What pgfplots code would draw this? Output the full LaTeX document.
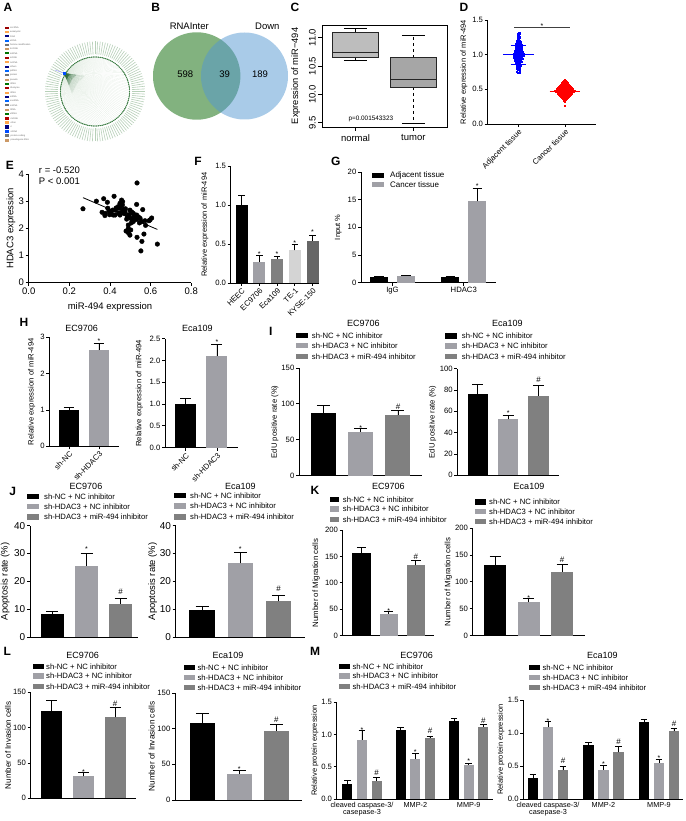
\documentclass[border=0pt]{standalone}
\usepackage{fontspec}
\setmainfont{Liberation Sans}
\usepackage{pgfplots}
\usepackage{pgfplotstable}
\pgfplotsset{compat=1.18}
\definecolor{gA}{HTML}{A0A0A6}
\definecolor{gB}{HTML}{808080}
\definecolor{ringg}{HTML}{3F7F47}
\definecolor{fang}{HTML}{2F6B3A}
\definecolor{labg}{HTML}{B7D0B8}
\definecolor{spokeg}{HTML}{DCE8DC}
\newcommand{\fz}[1]{\fontsize{#1}{#1}\selectfont}
\pgfplotstableread[row sep=\\]{x y\\
1.000 0\\ .999 .052\\ .995 .105\\ .988 .156\\ .978 .208\\ .966 .259\\ .951 .309\\ .934 .358\\ .914 .407\\ .891 .454\\
.866 .500\\ .839 .545\\ .809 .588\\ .777 .629\\ .743 .669\\ .707 .707\\ .669 .743\\ .629 .777\\ .588 .809\\ .545 .839\\
.500 .866\\ .454 .891\\ .407 .914\\ .358 .934\\ .309 .951\\ .259 .966\\ .208 .978\\ .156 .988\\ .105 .995\\ .052 .999\\
0 1.000\\ -.052 .999\\ -.105 .995\\ -.156 .988\\ -.208 .978\\ -.259 .966\\ -.309 .951\\ -.358 .934\\ -.407 .914\\ -.454 .891\\
-.500 .866\\ -.545 .839\\ -.588 .809\\ -.629 .777\\ -.669 .743\\ -.707 .707\\ -.743 .669\\ -.777 .629\\ -.809 .588\\ -.839 .545\\
-.866 .500\\ -.891 .454\\ -.914 .407\\ -.934 .358\\ -.951 .309\\ -.966 .259\\ -.978 .208\\ -.988 .156\\ -.995 .105\\ -.999 .052\\
-1.000 0\\ -.999 -.052\\ -.995 -.105\\ -.988 -.156\\ -.978 -.208\\ -.966 -.259\\ -.951 -.309\\ -.934 -.358\\ -.914 -.407\\ -.891 -.454\\
-.866 -.500\\ -.839 -.545\\ -.809 -.588\\ -.777 -.629\\ -.743 -.669\\ -.707 -.707\\ -.669 -.743\\ -.629 -.777\\ -.588 -.809\\ -.545 -.839\\
-.500 -.866\\ -.454 -.891\\ -.407 -.914\\ -.358 -.934\\ -.309 -.951\\ -.259 -.966\\ -.208 -.978\\ -.156 -.988\\ -.105 -.995\\ -.052 -.999\\
0 -1.000\\ .052 -.999\\ .105 -.995\\ .156 -.988\\ .208 -.978\\ .259 -.966\\ .309 -.951\\ .358 -.934\\ .407 -.914\\ .454 -.891\\
.500 -.866\\ .545 -.839\\ .588 -.809\\ .629 -.777\\ .669 -.743\\ .707 -.707\\ .743 -.669\\ .777 -.629\\ .809 -.588\\ .839 -.545\\
.866 -.500\\ .891 -.454\\ .914 -.407\\ .934 -.358\\ .951 -.309\\ .966 -.259\\ .978 -.208\\ .988 -.156\\ .995 -.105\\ .999 -.052\\
}\Circ
\pgfplotstableread[row sep=\\]{u v\\
20 2.7\\ 19.5 3.5\\ 19 4.3\\ 18 5.5\\ 17 6.3\\ 16 7\\ 15 7.8\\ 14 8.5\\ 13.5 9.3\\ 13 10\\ 12.5 11\\ 12 12\\ 11.5 13\\ 11 14\\ 10.5 15\\ 10 16\\ 9.5 17\\ 9 18\\ 8.5 19\\ 8 20\\
}\Fan
\pgfplotsset{
  base/.style={scale only axis,anchor=south west,clip=false,axis x line*=bottom,axis y line*=left,
    enlargelimits=false,ymin=0,xtick=\empty,tick align=outside,major tick length=3pt,
    tick style={black,line width=.8pt},axis line style={line width=.8pt},
    /pgf/number format/assume math mode=true,tick label style={font=\fz{7.7},inner sep=1.5pt},
    scaled ticks=false,every axis title/.style={at={(rel axis cs:0,1)},anchor=center}},
  P/.style n args={4}{at={(#1pt,{(821-#2)*1pt})},width=#3pt,height=#4pt},
  YL/.style n args={3}{ylabel={#1},every axis y label/.style={at={(rel axis cs:0,0.5)},xshift=-#2pt,rotate=90,anchor=center,font=\fz{#3}}},
  T/.style n args={3}{title={#1},title style={xshift=#2pt,yshift=#3pt,font=\fz{9}}},
  cap/.style={error bars/error mark options={mark size=#1pt,line width=.8pt,rotate=90}},
  dec1/.style={yticklabel style={/pgf/number format/fixed,/pgf/number format/fixed zerofill,/pgf/number format/precision=1}},
  rotx/.style={xticklabel style={rotate=45,anchor=north east,inner sep=1pt}},
  wh/.style={black,line width=.8pt,dash pattern=on 3pt off 3pt},
  ca/.style={black,line width=.8pt},
}
\newcommand{\Bb}[4]{\addplot[ybar,bar shift=0pt,fill=#1,draw=none,error bars/.cd,y dir=plus,y explicit,error bar style={black,line width=.8pt}] coordinates {(#2,#3) +- (0,#4)};}
\newcommand{\St}[2]{\node[font=\fz{7},inner sep=0pt,yshift=-1.7pt] at (axis cs:#1,#2) {*};}
\newcommand{\Hs}[2]{\node[font=\fz{8},inner sep=0pt] at (axis cs:#1,#2) {\#};}
\newcommand{\Leg}[7][\fz{7.7}]{%
  \fill[black] (axis cs:#2,#5-2.7) rectangle (axis cs:#3,#5+2.7);
  \fill[gA] (axis cs:#2,#6-2.7) rectangle (axis cs:#3,#6+2.7);
  \fill[gB] (axis cs:#2,#7-2.7) rectangle (axis cs:#3,#7+2.7);
  \node[anchor=west,inner sep=0pt,font=#1] at (axis cs:#4,#5) {sh-NC + NC inhibitor};
  \node[anchor=west,inner sep=0pt,font=#1] at (axis cs:#4,#6) {sh-HDAC3 + NC inhibitor};
  \node[anchor=west,inner sep=0pt,font=#1] at (axis cs:#4,#7) {sh-HDAC3 + miR-494 inhibitor};}
\newcommand{\LA}[3]{\fill[#2] (axis cs:5.3,#1-1) rectangle (axis cs:8.7,#1+1);
  \node[anchor=west,inner sep=0pt,font=\fz{2.3},text=black!60] at (axis cs:10,#1) {#3};}
\newcommand{\LB}[3]{\fill[#2] (axis cs:4.7,#1-1.6) rectangle (axis cs:9.3,#1+1.6);
  \node[anchor=west,inner sep=0pt,font=\fz{2.3},text=black!60] at (axis cs:10.5,#1) {#3};}
\newcommand{\Let}[3]{\node[font=\bfseries\fz{12},inner sep=0pt] at (axis cs:#1,#2) {#3};}
\begin{document}
\begin{tikzpicture}
\useasboundingbox (0,0) rectangle (685pt,821pt);

% C box plot
\begin{axis}[scale only axis,anchor=south west,clip=false,P={322}{127}{125}{102},xmin=-.58,xmax=1.583,ymin=9.424,ymax=11.224,
  axis line style={line width=.9pt},tick style={black,line width=.8pt},tick align=outside,major tick length=4pt,
  xtick={0,1},xticklabels={normal,tumor},ytick={9.5,10,10.5,11},xtick pos=bottom,ytick pos=left,
  /pgf/number format/assume math mode=true,dec1,
  tick label style={font=\fz{9.5}},yticklabel style={rotate=90,anchor=south,inner sep=2pt},xticklabel style={inner sep=3pt},
  YL={Expression of miR−494}{26.3}{9.3}]
\addplot[wh] coordinates {(0,11.095)(0,11.155)};
\addplot[wh] coordinates {(0,10.646)(0,10.60)};
\addplot[wh] coordinates {(1,10.646)(1,11.04)};
\addplot[wh] coordinates {(1,10.13)(1,9.49)};
\addplot[ca] coordinates {(-.2,11.155)(.2,11.155)};
\addplot[ca] coordinates {(-.2,10.60)(.2,10.60)};
\addplot[ca] coordinates {(.8,11.04)(1.2,11.04)};
\addplot[ca] coordinates {(.8,9.49)(1.2,9.49)};
\addplot[fill=black!26,draw=black!85,line width=.9pt] coordinates {(-.4,10.646)(.4,10.646)(.4,11.095)(-.4,11.095)} --cycle;
\addplot[fill=black!35,draw=black!85,line width=.9pt] coordinates {(.6,10.13)(1.4,10.13)(1.4,10.646)(.6,10.646)} --cycle;
\addplot[black!85,line width=.9pt] coordinates {(-.4,10.735)(.4,10.735)};
\addplot[black!85,line width=.9pt] coordinates {(.6,10.26)(1.4,10.26)};
\node[font=\fz{6.4},inner sep=0pt] at (axis cs:.265,9.564) {p=0.001543323};
\end{axis}

% D scatter
\begin{axis}[base,P={487.7}{124}{108.3}{104},xmin=-30.6,xmax=77.7,ymax=1.5,ytick={0,.5,1,1.5},dec1,
  xtick={0,46.7},xticklabels={Adjacent tissue,Cancer tissue},rotx,tick label style={font=\fz{7.7}},
  YL={Relative expression of miR-494}{23.7}{7.5}]
\addplot[only marks,mark=square*,mark size=.55pt,blue,mark options={draw=none}] table[row sep=\\,x=o,y=y]{o y\\
0 1.32\\ 1 1.32\\ -1 1.30\\ 1 1.30\\ -1 1.28\\ 0 1.28\\ 0 1.26\\ 1 1.26\\ -1 1.24\\ 1 1.24\\ -1 1.22\\ .5 1.22\\
-1.5 1.20\\ 0 1.20\\ 1.5 1.20\\ -2 1.18\\ 0 1.18\\ 2 1.18\\ -2.5 1.16\\ -1 1.16\\ 1 1.16\\ 2.5 1.16\\
-3 1.14\\ -1 1.14\\ 1 1.14\\ 3 1.14\\ -3 1.12\\ -1 1.12\\ 1 1.12\\ 3 1.12\\ -2.5 1.10\\ -1 1.10\\ 1 1.10\\ 2.5 1.10\\
-3 1.08\\ -1.5 1.08\\ 0 1.08\\ 1.5 1.08\\ 3 1.08\\ -3.5 1.06\\ -1.5 1.06\\ 0 1.06\\ 1.5 1.06\\ 3.5 1.06\\
-4 1.04\\ -2 1.04\\ 0 1.04\\ 2 1.04\\ 4 1.04\\ -5 1.02\\ -3 1.02\\ -1 1.02\\ 1 1.02\\ 3 1.02\\ 5 1.02\\
-5 1.00\\ -3 1.00\\ -1 1.00\\ 1 1.00\\ 3 1.00\\ 5 1.00\\ -5 .98\\ -3 .98\\ -1 .98\\ 1 .98\\ 3 .98\\ 5 .98\\
-4.5 .96\\ -2.5 .96\\ -.5 .96\\ 1.5 .96\\ 3.5 .96\\ -4 .94\\ -2 .94\\ 0 .94\\ 2 .94\\ 4 .94\\
-3.5 .92\\ -1.5 .92\\ .5 .92\\ 2.5 .92\\ -3 .90\\ -1 .90\\ 1 .90\\ 3 .90\\ -2.5 .88\\ -.5 .88\\ 1.5 .88\\
-2 .86\\ 0 .86\\ 2 .86\\ -2 .84\\ 0 .84\\ 2 .84\\ -1.5 .82\\ .5 .82\\ 1.5 .82\\ -1.5 .80\\ 0 .80\\ 1.5 .80\\
-1 .78\\ 1 .78\\ -1.5 .76\\ 1 .76\\ -1 .74\\ 1 .74\\
};
\addplot[only marks,mark=square*,mark size=.55pt,red,mark options={draw=none}] table[row sep=\\,x=o,y=y]{o y\\
46.7 .64\\ 45.7 .625\\ 47.7 .625\\ 44.7 .61\\ 46.7 .61\\ 48.7 .61\\ 43.7 .595\\ 45.7 .595\\ 47.7 .595\\ 49.7 .595\\
43.2 .58\\ 45.2 .58\\ 47.2 .58\\ 49.2 .58\\ 42.7 .565\\ 44.7 .565\\ 46.7 .565\\ 48.7 .565\\ 50.7 .565\\
41.7 .55\\ 43.7 .55\\ 45.7 .55\\ 47.7 .55\\ 49.7 .55\\ 51.7 .55\\ 40.7 .535\\ 42.7 .535\\ 44.7 .535\\ 46.7 .535\\ 48.7 .535\\ 50.7 .535\\ 52.7 .535\\
39.7 .52\\ 41.7 .52\\ 43.7 .52\\ 45.7 .52\\ 47.7 .52\\ 49.7 .52\\ 51.7 .52\\ 53.7 .52\\
38.7 .505\\ 40.7 .505\\ 42.7 .505\\ 44.7 .505\\ 46.7 .505\\ 48.7 .505\\ 50.7 .505\\ 52.7 .505\\ 54.7 .505\\
38.7 .49\\ 40.7 .49\\ 42.7 .49\\ 44.7 .49\\ 46.7 .49\\ 48.7 .49\\ 50.7 .49\\ 52.7 .49\\ 54.7 .49\\
36.7 .475\\ 38.7 .475\\ 40.7 .475\\ 42.7 .475\\ 44.7 .475\\ 46.7 .475\\ 48.7 .475\\ 50.7 .475\\ 52.7 .475\\ 54.7 .475\\ 56.7 .475\\
37.7 .46\\ 39.7 .46\\ 41.7 .46\\ 43.7 .46\\ 45.7 .46\\ 47.7 .46\\ 49.7 .46\\ 51.7 .46\\ 53.7 .46\\ 55.7 .46\\
39.7 .445\\ 41.7 .445\\ 43.7 .445\\ 45.7 .445\\ 47.7 .445\\ 49.7 .445\\ 51.7 .445\\ 53.7 .445\\
40.7 .43\\ 42.7 .43\\ 44.7 .43\\ 46.7 .43\\ 48.7 .43\\ 50.7 .43\\ 52.7 .43\\
41.7 .415\\ 43.7 .415\\ 45.7 .415\\ 47.7 .415\\ 49.7 .415\\ 51.7 .415\\
42.7 .40\\ 44.7 .40\\ 46.7 .40\\ 48.7 .40\\ 50.7 .40\\ 43.7 .385\\ 45.7 .385\\ 47.7 .385\\ 49.7 .385\\
44.7 .37\\ 46.7 .37\\ 48.7 .37\\ 45.7 .355\\ 47.7 .355\\ 45.7 .34\\ 46.7 .34\\ 46.7 .32\\ 46.7 .27\\
};
\addplot[blue,line width=.8pt] coordinates {(-15.3,1)(15.3,1)};
\addplot[blue,line width=.8pt] coordinates {(-7.7,1.14)(7.7,1.14)};
\addplot[blue,line width=.8pt] coordinates {(-7.7,.86)(7.7,.86)};
\addplot[red,line width=.8pt] coordinates {(31.4,.47)(62,.47)};
\addplot[red,line width=.8pt] coordinates {(39,.52)(54.4,.52)};
\addplot[red,line width=.8pt] coordinates {(39,.42)(54.4,.42)};
\addplot[black!75,line width=.8pt] coordinates {(-4.3,1.389)(51.7,1.389)};
\St{23.7}{1.43}
\end{axis}

% E scatter
\begin{axis}[base,P={28.7}{282.7}{162.6}{108.7},xmin=0,xmax=.8,ymax=4,xtick={0,.2,.4,.6,.8},ytick={0,1,2,3,4},
  xticklabel style={/pgf/number format/fixed,/pgf/number format/fixed zerofill,/pgf/number format/precision=1},
  tick label style={font=\fz{9.5}},YL={HDAC3 expression}{17.7}{9.5},xlabel={miR-494 expression},
  every axis x label/.style={at={(rel axis cs:.5,0)},yshift=-24pt,anchor=center,font=\fz{9.5}}]
\addplot[only marks,mark=*,mark size=2.3pt,black] coordinates {
(.267,2.72)(.333,3.0)(.369,3.09)(.387,2.96)(.42,3.18)(.361,2.59)(.377,2.55)(.375,2.47)(.389,2.74)(.395,2.64)
(.405,2.55)(.416,2.49)(.413,2.67)(.428,2.67)(.425,2.49)(.443,2.56)(.446,2.74)(.452,2.82)(.449,2.92)(.457,3.04)
(.462,2.98)(.461,2.86)(.441,2.80)(.466,2.70)(.469,2.55)(.449,2.49)(.531,2.88)(.561,2.69)(.498,2.67)(.507,2.60)
(.49,2.49)(.482,2.34)(.502,2.37)(.515,2.55)(.518,2.43)(.531,2.49)(.531,2.33)(.515,2.25)(.49,2.12)(.49,1.99)
(.479,1.90)(.49,1.84)(.498,1.75)(.502,1.94)(.548,2.37)(.556,2.25)(.572,2.28)(.575,2.11)(.592,2.28)(.605,2.38)
(.597,2.31)(.567,1.79)(.533,1.67)(.557,1.52)(.633,1.42)(.552,1.17)(.533,3.67)(.476,2.72)(.485,2.42)(.523,2.35)
(.51,2.28)(.54,2.42)(.398,2.5)(.43,2.75)(.46,2.62)(.505,2.2)(.495,2.5)(.545,2.2)(.474,2.6)
};
\addplot[black,line width=.8pt] coordinates {(.267,3.13)(.633,1.96)};
\node[anchor=west,inner sep=0pt,font=\fz{9.5}] at (axis cs:.0495,4.13) {r = -0.520};
\node[anchor=west,inner sep=0pt,font=\fz{9.5}] at (axis cs:.0495,3.74) {P < 0.001};
\end{axis}

% F
\begin{axis}[base,P={230.7}{283}{88.6}{116.7},xmin=-.615,xmax=4.38,ymax=1.5,ytick={0,.5,1,1.5},dec1,bar width=12pt,cap=3.3,
  xtick={0,1,2,3,4},xticklabels={HEEC,EC9706,Eca109,TE-1,KYSE-150},rotx,
  YL={Relative expression of miR-494}{25.7}{7.5}]
\Bb{black}{0}{1.0}{.12}
\Bb{gA}{1}{.27}{.08}
\Bb{gB}{2}{.31}{.03}
\Bb{black!17}{3}{.42}{.08}
\Bb{black!60}{4}{.54}{.07}
\St{1}{.39}\St{2}{.39}\St{3}{.53}\St{4}{.67}
\end{axis}

% G
\begin{axis}[base,P={361}{282.7}{135}{110.7},xmin=-.442,xmax=1.452,ymax=20,ytick={0,5,10,15,20},bar width=18pt,cap=4.7,
  xtick={0,1},xticklabels={IgG,HDAC3},YL={Input \%}{22.7}{7.5}]
\Bb{black}{-.189}{1.0}{.15}
\Bb{gA}{.189}{1.25}{.1}
\Bb{black}{.811}{.95}{.15}
\Bb{gA}{1.189}{14.7}{2.4}
\St{1.189}{17.7}
\end{axis}

% H
\begin{axis}[base,P={49.3}{446.3}{70}{109},xmin=-.657,xmax=1.677,ymax=3,ytick={0,1,2,3},bar width=20pt,cap=5.3,
  xtick={0,1},xticklabels={sh-NC,sh-HDAC3},rotx,YL={Relative expression of miR-494}{17.6}{7.7},T={EC9706}{32.4}{8.6}]
\Bb{black}{0}{1.0}{.07}
\Bb{gA}{1}{2.65}{.18}
\St{1}{2.94}
\end{axis}
\begin{axis}[base,P={165}{447.7}{73.3}{109},xmin=-.661,xmax=1.681,ymax=2.5,ytick={0,.5,1,1.5,2,2.5},dec1,bar width=21pt,cap=5.5,
  xtick={0,1},xticklabels={sh-NC,sh-HDAC3},rotx,YL={Relative expression of miR-494}{25.7}{7.7},T={Eca109}{32.3}{10}]
\Bb{black}{0}{1.0}{.14}
\Bb{gA}{1}{2.1}{.27}
\St{1}{2.47}
\end{axis}

% I
\begin{axis}[base,P={299}{475.7}{122.7}{107.7},xmin=-.651,xmax=2.635,ymax=150,ytick={0,50,100,150},bar width=25pt,cap=6.5,
  YL={EdU positive rate (\%)}{24}{7.7},T={EC9706}{64.3}{45}]
\Bb{black}{0}{87}{11}
\Bb{gA}{1}{61}{5}
\Bb{gB}{2}{84}{7.5}
\St{1}{68}\Hs{2}{96.5}
\end{axis}
\begin{axis}[base,P={457.3}{475.3}{101.7}{106.6},xmin=-.675,xmax=2.675,ymax=100,ytick={0,20,40,60,80,100},bar width=20.3pt,cap=5.5,
  YL={EdU positive rate (\%)}{24.6}{7.7},T={Eca109}{50}{45.7}]
\Bb{black}{0}{76}{9}
\Bb{gA}{1}{52.5}{4}
\Bb{gB}{2}{74.5}{10}
\St{1}{59.6}\Hs{2}{89.4}
\end{axis}

% J
\begin{axis}[base,P={30}{637}{107.7}{111.3},xmin=-.652,xmax=2.497,ymax=40,ytick={0,10,20,30,40},bar width=22.7pt,cap=6,
  tick label style={font=\fz{10}},YL={Apoptosis rate (\%)}{24.7}{9.4},T={EC9706}{56}{39.7}]
\Bb{black}{0}{8.3}{1}
\Bb{gA}{1}{25.6}{4.4}
\Bb{gB}{2}{12}{1.8}
\St{1}{32.1}\Hs{2}{16.3}
\end{axis}
\begin{axis}[base,P={175.7}{637}{129}{111.3},xmin=-.695,xmax=2.687,ymax=40,ytick={0,10,20,30,40},bar width=25.7pt,cap=6.5,
  tick label style={font=\fz{10}},YL={Apoptosis rate (\%)}{23}{9.4},T={Eca109}{64.6}{39}]
\Bb{black}{0}{9.7}{1.3}
\Bb{gA}{1}{26.5}{3.8}
\Bb{gB}{2}{12.8}{2.2}
\St{1}{32.3}\Hs{2}{17.4}
\end{axis}

% K
\begin{axis}[base,P={342.7}{635.7}{91.6}{105.7},xmin=-.692,xmax=2.681,ymax=200,ytick={0,50,100,150,200},bar width=18.3pt,cap=4.7,
  YL={Number of Migration cells}{26.7}{7.8},T={EC9706}{45.6}{43.3}]
\Bb{black}{0}{156}{11}
\Bb{gA}{1}{42}{4}
\Bb{gB}{2}{133}{9.6}
\St{1}{50.5}\Hs{2}{149}
\end{axis}
\begin{axis}[base,P={472.7}{635.7}{112.3}{107.7},xmin=-.672,xmax=2.681,ymax=200,ytick={0,50,100,150,200},bar width=22.3pt,cap=5.5,
  YL={Number of Migration cells}{24.4}{7.8},T={Eca109}{56.3}{41.3}]
\Bb{black}{0}{130.7}{16}
\Bb{gA}{1}{62.5}{6.2}
\Bb{gB}{2}{119}{12.9}
\St{1}{72.4}\Hs{2}{140.6}
\end{axis}

% L
\begin{axis}[base,P={30.7}{798.3}{105.3}{106},xmin=-.666,xmax=2.656,ymax=150,ytick={0,50,100,150},bar width=21pt,cap=5.5,
  YL={Number of Invasion cells}{22.7}{8},T={EC9706}{52}{37.3}]
\Bb{black}{0}{123.6}{14.4}
\Bb{gA}{1}{31}{5.8}
\Bb{gB}{2}{114.6}{13.7}
\St{1}{40}\Hs{2}{134.4}
\end{axis}
\begin{axis}[base,P={175}{800}{127}{107},xmin=-.738,xmax=2.695,ymax=150,ytick={0,50,100,150},bar width=24.7pt,cap=6.5,
  YL={Number of Invasion cells}{23.3}{8.2},T={Eca109}{53}{37.7}]
\Bb{black}{0}{108}{13.5}
\Bb{gA}{1}{36.4}{4.6}
\Bb{gB}{2}{97.2}{8.4}
\St{1}{45.3}\Hs{2}{113}
\end{axis}

% M
\begin{axis}[base,P={336.7}{799.3}{156.6}{97.3},xmin=-.473,xmax=2.46,ymax=1.5,ytick={0,.5,1,1.5},dec1,bar width=10pt,cap=3.3,
  xtick={0,1,2},xticklabels={{cleaved caspase-3/\\casepase-3},MMP-2,MMP-9},
  xticklabel style={align=center,font=\fz{7.3},yshift=2pt},major x tick style={draw=none},
  YL={Relative protein expression}{21.7}{7.5},T={EC9706}{80}{47}]
\Bb{black}{-.274}{.232}{.062}
\Bb{gA}{0}{.917}{.143}
\Bb{gB}{.274}{.283}{.047}
\Bb{black}{.726}{1.062}{.046}
\Bb{gA}{1}{.619}{.092}
\Bb{gB}{1.274}{.943}{.031}
\Bb{black}{1.726}{1.206}{.047}
\Bb{gA}{2}{.531}{.026}
\Bb{gB}{2.274}{1.119}{.031}
\St{0}{1.098}\St{1}{.75}\St{2}{.61}
\Hs{.274}{.41}\Hs{1.274}{1.057}\Hs{2.274}{1.21}
\end{axis}
\begin{axis}[base,P={523.3}{799.3}{160}{99.3},xmin=-.445,xmax=2.438,ymax=1.5,ytick={0,.5,1,1.5},dec1,bar width=10.3pt,cap=3.3,
  xtick={0,1,2},xticklabels={{cleaved caspase-3/\\casepase-3},MMP-2,MMP-9},
  xticklabel style={align=center,font=\fz{7.3},yshift=2pt},major x tick style={draw=none},
  YL={Relative protein expression}{22.3}{7.5},T={Eca109}{79}{45}]
\Bb{black}{-.27}{.322}{.055}
\Bb{gA}{0}{1.092}{.081}
\Bb{gB}{.27}{.438}{.06}
\Bb{black}{.73}{.825}{.036}
\Bb{gA}{1}{.443}{.075}
\Bb{gB}{1.27}{.71}{.09}
\Bb{black}{1.73}{1.168}{.035}
\Bb{gA}{2}{.554}{.05}
\Bb{gB}{2.27}{1.027}{.045}
\St{0}{1.208}\St{1}{.564}\St{2}{.644}
\Hs{.27}{.584}\Hs{1.27}{.876}\Hs{2.27}{1.137}
\end{axis}

% canvas: panels A, B, legends, panel letters
\begin{axis}[hide axis,scale only axis,anchor=south west,at={(0,0)},width=685pt,height=821pt,xmin=0,xmax=685,ymin=0,ymax=821,y dir=reverse,clip=false]
% A network
\addplot[no marks,draw=spokeg,line width=.12pt,quiver={u=30.7+34.5*\thisrow{x},v=18.2+34.5*\thisrow{y}}] table[x expr=64.3,y expr=73.3]{\Circ};
\addplot[no marks,draw=fang,opacity=.2,line width=.3pt,quiver={u=\thisrow{u},v=\thisrow{v}}] table[x expr=64.3,y expr=73.3]{\Fan};
\addplot[no marks,draw=fang,opacity=.4,line width=.3pt,quiver={u=.6*\thisrow{u},v=.6*\thisrow{v}}] table[x expr=64.3,y expr=73.3]{\Fan};
\addplot[no marks,draw=fang,opacity=.7,line width=.3pt,quiver={u=.3*\thisrow{u},v=.3*\thisrow{v}}] table[x expr=64.3,y expr=73.3]{\Fan};
\addplot[no marks,draw=labg,line width=.6pt,quiver={u=13*\thisrow{x},v=13*\thisrow{y}}] table[x expr=95+37*\thisrow{x},y expr=91.5+37*\thisrow{y}]{\Circ};
\addplot[line width=.3pt,draw=ringg,mark=*,mark size=.45pt,mark options={fill=ringg,draw=none}] table[x expr=95+34.5*\thisrow{x},y expr=91.5+34.5*\thisrow{y}]{\Circ};
\addplot[blue!35!white,line width=.5pt] coordinates {(55,70)(64.3,73.3)};
\addplot[only marks,mark=square*,mark size=1.2pt,blue!70!cyan,mark options={draw=none}] coordinates {(64.3,73.3)};
\LA{27.7}{red!60!black}{circRNA}\LA{32}{orange!70}{eukaryotic}\LA{36.3}{blue!50!black}{DNA}\LA{40.7}{blue!60!cyan}{eRNA}
\LA{45}{black!55}{histone modification}\LA{49}{brown!80}{lncRNA}\LA{53.3}{green!45!black}{miRNA}\LA{58}{red!65!black}{mRNA}
\LA{62.3}{orange!70}{ncRNA}\LA{66.7}{blue!50!black}{others}\LA{71}{blue!60!cyan}{piRNA}\LA{75.3}{black!55}{protein}
\LA{79.7}{brown!80}{pseudo}\LA{84}{green!45!black}{rRNA}\LA{88.3}{red!65!black}{ribozyme}\LA{92.7}{orange!70}{rRNA}
\LA{97}{blue!50!black}{siRNA}\LA{101}{blue!60!cyan}{snoRNA}\LA{105.3}{black!55}{snRNA}\LA{109.7}{brown!80}{tRNA}\LA{114}{green!45!black}{vtRNA}
\LB{118.3}{red!70!black}{miRNA}\LB{122.7}{orange!70}{other}\LB{127}{blue!50!black}{ri}\LB{131.3}{blue!70!cyan}{siRNA}\LB{135.7}{black!55}{protein-coding}\LB{140.3}{brown!80}{pseudogene RNA}
% B venn
\addplot[fill={rgb,255:red,130;green,178;blue,127},draw=none] table[x expr=196.7+43.7*\thisrow{x},y expr=76+43.7*\thisrow{y}]{\Circ};
\addplot[fill={rgb,255:red,83;green,151;blue,209},fill opacity=.5,draw=none] table[x expr=244.5+43.5*\thisrow{x},y expr=76+43.5*\thisrow{y}]{\Circ};
\node[font=\fz{9.5},inner sep=0pt] at (axis cs:189.3,26.7) {RNAInter};
\node[font=\fz{9.5},inner sep=0pt] at (axis cs:267.3,26.7) {Down};
\node[font=\fz{9.5},inner sep=0pt] at (axis cs:185.3,74.5) {598};
\node[font=\fz{9.5},inner sep=0pt] at (axis cs:224.7,74.5) {39};
\node[font=\fz{9.5},inner sep=0pt] at (axis cs:260,74.5) {189};
% G legend
\fill[black] (axis cs:372.3,172.6) rectangle (axis cs:384,178);
\fill[gA] (axis cs:372.3,182) rectangle (axis cs:384,187.4);
\node[anchor=west,inner sep=0pt,font=\fz{8}] at (axis cs:390,175.3) {Adjacent tissue};
\node[anchor=west,inner sep=0pt,font=\fz{8}] at (axis cs:390,184.7) {Cancer tissue};
% legends
\Leg{296}{308}{311.7}{335.7}{345.7}{356.3}
\Leg{445.3}{457.3}{461.7}{336}{346}{356.7}
\Leg{27.3}{39.3}{44}{496.3}{506.3}{517}
\Leg{174}{185.7}{190}{495.7}{506}{517}
\Leg{330}{339}{342.7}{499.3}{509}{519.3}
\Leg{475}{486}{489}{502}{511.3}{521.7}
\Leg{33.3}{44.3}{46}{666.3}{676}{686.7}
\Leg{184}{195}{197.3}{667.7}{677.3}{687.7}
\Leg{339.3}{350}{352.3}{666.3}{676}{686.7}
\Leg{529.3}{540}{542.3}{667.7}{677.3}{687.7}
% panel letters
\Let{8}{7.5}{A}\Let{155.7}{7.5}{B}\Let{295}{7.5}{C}\Let{464}{7.5}{D}
\Let{10}{165.7}{E}\Let{198}{161}{F}\Let{335.7}{161}{G}
\Let{24}{322.7}{H}\Let{270.7}{331.7}{I}\Let{12.7}{491.7}{J}\Let{315}{490.7}{K}\Let{7.3}{651}{L}\Let{315}{651}{M}
\end{axis}
\end{tikzpicture}
\end{document}
